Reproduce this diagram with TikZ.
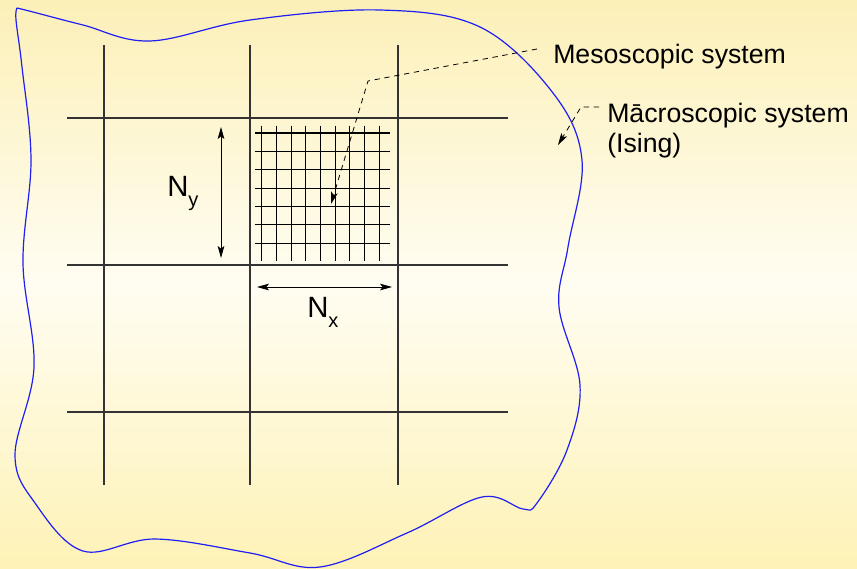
\documentclass[tikz,border=0pt]{standalone}
\usepackage{fontspec}
\setmainfont{Liberation Sans}
\usetikzlibrary{arrows.meta}
\definecolor{bgtop}{RGB}{252,240,184}
\definecolor{bgmid}{RGB}{255,253,242}
\definecolor{bgbot}{RGB}{254,242,182}
\definecolor{blobblue}{RGB}{30,30,245}

\begin{document}
\begin{tikzpicture}[x=0.75pt,y=-0.75pt,
    coarse/.style={black!80, line width=1.1pt},
    fine/.style={black, line width=0.8pt},
    blob/.style={blobblue, line width=0.9pt},
    dimarrow/.style={{Stealth[length=9pt,width=5pt,inset=2pt]}-{Stealth[length=9pt,width=5pt,inset=2pt]}, line width=0.6pt},
    leader/.style={-{Stealth[length=9pt,width=5pt,inset=2pt]}, dash pattern=on 4pt off 3.5pt, line width=0.6pt},
    lbl/.style={inner sep=0pt, font=\fontsize{20}{22.5}\selectfont},
    symlbl/.style={inner sep=0pt, font=\fontsize{22}{22}\selectfont}]

    % Background
    \useasboundingbox (0,0) rectangle (857,568);
    \fill[top color=bgtop, bottom color=bgbot, middle color=bgmid] (0,0) rectangle (857,568);

    % Macroscopic region outline
    \draw[blob] plot[smooth, tension=0.6] coordinates {(17,8) (33,12) (83,25) (150,41) (250,20) (380,10) (480,27) (553,93) (582,160) (568,247) (559,307) (580,385) (567,450) (537,503) (523,509) (482,497) (407,533) (320,567) (250,553) (155,539) (83,551) (35,503) (15,455) (34,367) (23,263) (31,160) (22,67) (16,20) (17,8)};

    % Coarse grid
    \foreach \x in {104,250,398}
        \draw[coarse] (\x,45) -- (\x,485);
    \foreach \y in {118,265,412}
        \draw[coarse] (67,\y) -- (508,\y);

    % Fine grid inside one cell
    \foreach \i in {0,...,8}
        \draw[fine] (261.7+14.67*\i,125.7) -- (261.7+14.67*\i,261);
    \foreach \j in {0,...,6}
        \draw[fine] (255,133+18.38*\j) -- (390,133+18.38*\j);

    % Labels
    \node[lbl, anchor=base west] (meso) at (553,63) {Mesoscopic system};
    \node[lbl, anchor=base west, align=left] (macro) at (607,152) {Mācroscopic system\\(Ising)};
    \node[symlbl, anchor=base west] (ny) at (167,196) {N\raisebox{-8pt}{\fontsize{15}{15}\selectfont y}};
    \node[symlbl, anchor=base west] (nx) at (307,317) {N\raisebox{-8pt}{\fontsize{15}{15}\selectfont x}};

    % Cell size arrows
    \coordinate (ny top) at (221,127);
    \coordinate (ny bot) at (221,258);
    \coordinate (nx left) at (257,287);
    \coordinate (nx right) at (392,287);
    \draw[dimarrow] (ny top) -- (ny bot);
    \draw[dimarrow] (nx left) -- (nx right);

    % Leaders
    \coordinate (meso bend) at (368,81);
    \coordinate (meso tip) at (331,204);
    \draw[leader] ([shift={(-16,-14)}]meso.base west) -- (meso bend) -- (meso tip);
    \coordinate (macro bend) at (581,107);
    \coordinate (macro tip) at (558,145);
    \draw[leader] ([shift={(-8,-45)}]macro.base west) -- (macro bend) -- (macro tip);
\end{tikzpicture}
\end{document}
